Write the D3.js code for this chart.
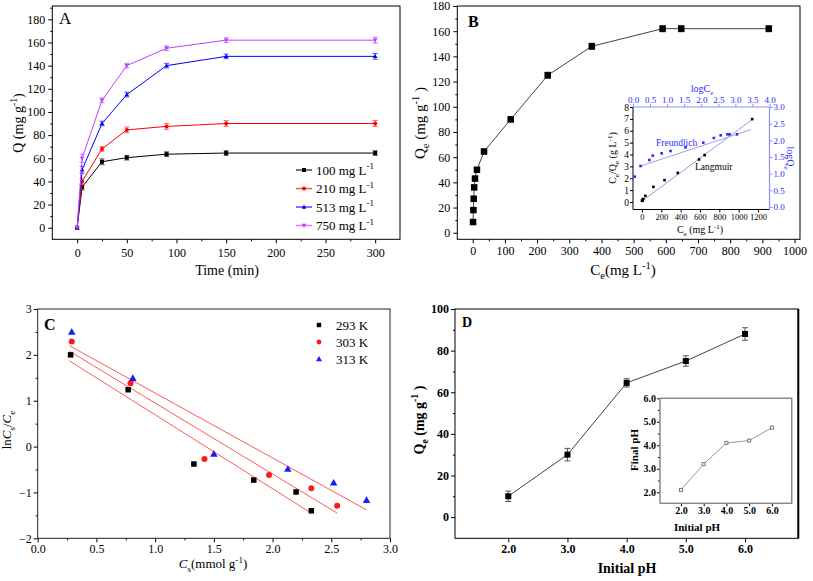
<!DOCTYPE html>
<html><head><meta charset="utf-8">
<script src="https://cdn.jsdelivr.net/npm/d3@7"></script>
<style>body{margin:0;background:#fff}svg{display:block}</style>
</head><body>
<script>
// ---------- Panel A data ----------
const timeMin = [0, 5, 25, 50, 90, 150, 300];
const seriesNamesA = ["100", "210", "513", "750"];
const q100 = [0, 35, 57, 60.5, 63.5, 64.5, 64.5];
const q210 = [0, 40, 68, 84.5, 87.5, 90, 90];
const q513 = [0, 50, 90, 115, 140, 148, 148];
const q750 = [0, 60, 110, 140, 155, 162, 162];
const err100 = [0, 2.5, 2.5, 2, 2, 2, 2];
const err210 = [0, 2.5, 2, 2.5, 2.5, 2.5, 2.5];
const err513 = [0, 3, 2, 2, 2, 2, 2.5];
const err750 = [0, 3.5, 2, 2, 2, 2, 2.5];
const ticksAX = [0, 50, 100, 150, 200, 250, 300];
const ticksAY = [0, 20, 40, 60, 80, 100, 120, 140, 160, 180];

// ---------- Panel B data ----------
const ceB = [1, 2, 3, 4.5, 7, 13, 35, 118, 233, 370, 590, 648, 920];
const qeB = [8.5, 18, 27, 36, 43, 50, 64.5, 90, 125, 148, 162, 162, 162];
const errB = [0, 0, 0, 0, 0, 0, 2, 2, 2.5, 2.5, 2.5, 2.5, 2.5];
const ticksBX = [0, 100, 200, 300, 400, 500, 600, 700, 800, 900, 1000];
const ticksBY = [0, 20, 40, 60, 80, 100, 120, 140, 160, 180];
// inset B
const insetCe = [1, 2, 3, 4.5, 7, 13, 35, 118, 233, 370, 590, 648, 1140];
const insetCeQe = [0.1, 0.12, 0.14, 0.15, 0.2, 0.26, 0.52, 1.28, 1.84, 2.45, 3.58, 3.95, 6.98];
const insetLogCe = [0.05, 0.22, 0.48, 0.58, 0.84, 1.1, 1.54, 2.06, 2.37, 2.57, 2.77, 2.83, 3.05];
const insetLogQe = [0.91, 1.23, 1.41, 1.54, 1.61, 1.68, 1.79, 1.93, 2.07, 2.15, 2.18, 2.18, 2.18];
const langmuirFit = [[0, 0.08], [1150, 7.0]];
const freundlichFit = [[0.2, 1.22], [3.45, 2.32]];
const ticksInCe = [0, 200, 400, 600, 800, 1000, 1200];
const ticksInLeft = [0, 1, 2, 3, 4, 5, 6, 7, 8];
const ticksInRight = [0, 0.5, 1, 1.5, 2, 2.5, 3];
const ticksInTop = [0, 0.5, 1, 1.5, 2, 2.5, 3, 3.5, 4];

// ---------- Panel C data ----------
const tempsC = ["293 K", "303 K", "313 K"];
const cs293 = [0.28, 0.77, 1.33, 1.84, 2.2, 2.33];
const ln293 = [2.0, 1.24, -0.38, -0.73, -0.99, -1.4];
const cs303 = [0.29, 0.79, 1.42, 1.97, 2.33, 2.55];
const ln303 = [2.29, 1.38, -0.27, -0.62, -0.91, -1.29];
const cs313 = [0.29, 0.81, 1.5, 2.13, 2.52, 2.8];
const ln313 = [2.5, 1.49, -0.16, -0.49, -0.79, -1.17];
const fit293 = [[0.27, 1.87], [2.33, -1.45]];
const fit303 = [[0.27, 2.08], [2.55, -1.45]];
const fit313 = [[0.27, 2.2], [2.8, -1.38]];
const ticksCX = [0, 0.5, 1, 1.5, 2, 2.5, 3];
const ticksCY = [-2, -1, 0, 1, 2, 3];

// ---------- Panel D data ----------
const phInit = [2, 3, 4, 5, 6];
const qeD = [10, 30, 64.5, 75, 88];
const errD = [2.5, 3, 2, 2.5, 3];
const phFinal = [2.1, 3.2, 4.1, 4.2, 4.75];
const ticksDX = [2, 3, 4, 5, 6];
const ticksDY = [0, 20, 40, 60, 80, 100];
const ticksDinY = [2, 3, 4, 5, 6];

const FONT = "'Liberation Serif','Times New Roman',serif";
const W = 813, H = 581;
const svg = d3.select("body").append("svg").attr("width", W).attr("height", H)
  .attr("font-family", FONT);

function rich(sel, parts, fs) {
  let shift = 0;
  parts.forEach(p => {
    const t = p.sup ? -fs * 0.42 : p.sub ? fs * 0.28 : 0;
    sel.append("tspan").attr("dy", t - shift)
      .attr("font-size", (p.sup || p.sub) ? fs * 0.7 : fs)
      .attr("font-style", p.it ? "italic" : null)
      .text(p.t);
    shift = t;
  });
  return sel;
}

function axisGen(orient, scale) {
  return orient === "bottom" ? d3.axisBottom(scale) : orient === "left" ? d3.axisLeft(scale)
    : orient === "top" ? d3.axisTop(scale) : d3.axisRight(scale);
}

function addAxis(orient, scale, pos, majors, minors, fmt, o) {
  o = o || {};
  const tr = (orient === "bottom" || orient === "top") ? `translate(0,${pos})` : `translate(${pos},0)`;
  const col = o.color || "#000";
  if (minors) {
    const gm = svg.append("g").attr("transform", tr);
    gm.call(axisGen(orient, scale).tickValues(minors).tickFormat(() => "").tickSizeInner(o.minor || 2).tickSizeOuter(0));
    gm.select(".domain").remove();
    gm.selectAll("line").attr("stroke", col);
  }
  const g = svg.append("g").attr("transform", tr);
  g.call(axisGen(orient, scale).tickValues(majors).tickFormat(fmt).tickSizeInner(o.major || 4).tickSizeOuter(0).tickPadding(o.pad == null ? 2 : o.pad));
  g.select(".domain").remove();
  g.selectAll("line").attr("stroke", col);
  g.selectAll("text").attr("font-family", FONT).attr("font-size", o.fs || 12)
    .attr("fill", o.tcolor || col).attr("font-weight", o.bold ? "bold" : null);
  return g;
}

function frame(x0, y0, x1, y1, stroke, sw) {
  svg.append("rect").attr("x", x0).attr("y", y0).attr("width", x1 - x0).attr("height", y1 - y0)
    .attr("fill", "none").attr("stroke", stroke || "#000").attr("stroke-width", sw || 1);
}

function marker(g, type, cx, cy, s, color, hollow) {
  let el;
  if (type === "square") el = g.append("rect").attr("x", cx - s / 2).attr("y", cy - s / 2).attr("width", s).attr("height", s);
  else if (type === "circle") el = g.append("circle").attr("cx", cx).attr("cy", cy).attr("r", s / 2);
  else if (type === "tri") el = g.append("path").attr("d", `M${cx},${cy - s * 0.6}L${cx + s * 0.58},${cy + s * 0.42}L${cx - s * 0.58},${cy + s * 0.42}Z`);
  else el = g.append("path").attr("d", `M${cx},${cy + s * 0.6}L${cx + s * 0.58},${cy - s * 0.42}L${cx - s * 0.58},${cy - s * 0.42}Z`);
  if (hollow) el.attr("fill", "#fff").attr("stroke", color).attr("stroke-width", 1);
  else el.attr("fill", color);
}

function errBars(g, xs, ys, es, xS, yS, color, cap) {
  xs.forEach((xv, i) => {
    if (!es[i]) return;
    const x = xS(xv), y1 = yS(ys[i] - es[i]), y2 = yS(ys[i] + es[i]);
    g.append("line").attr("x1", x).attr("x2", x).attr("y1", y1).attr("y2", y2).attr("stroke", color);
    [y1, y2].forEach(y => g.append("line").attr("x1", x - cap).attr("x2", x + cap).attr("y1", y).attr("y2", y).attr("stroke", color));
  });
}

// ================= Panel A =================
{
  const L = 52.3, R = 400, T = 6, B = 239.3;
  const x = d3.scaleLinear().domain([-25, 325]).range([L, R]);
  const y = d3.scaleLinear().domain([-10, 191.5]).range([B, T]);
  addAxis("bottom", x, B, ticksAX, d3.range(25, 300, 50), d3.format("d"), { pad: 5 });
  addAxis("left", y, L, ticksAY, d3.range(10, 191, 20), d3.format("d"), { pad: 3 });
  frame(L, T, R, B);
  const series = [
    { q: q100, e: err100, c: "#000000", ec: "#555", m: "square" },
    { q: q210, e: err210, c: "#ff0000", ec: "#ff6060", m: "circle" },
    { q: q513, e: err513, c: "#0000ff", ec: "#5050ff", m: "tri" },
    { q: q750, e: err750, c: "#c040ff", ec: "#c070ff", m: "dtri" }
  ];
  const line = d3.line().x((d, i) => x(timeMin[i])).y(d => y(d));
  const g = svg.append("g");
  series.forEach(s => {
    g.append("path").attr("d", line(s.q)).attr("fill", "none").attr("stroke", s.c).attr("stroke-width", 1);
    errBars(g, timeMin, s.q, s.e, x, y, s.ec, 2.5);
    s.q.forEach((v, i) => marker(g, s.m, x(timeMin[i]), y(v), 4, s.c));
  });
  const ly = [170, 188.5, 207, 225.5];
  series.forEach((s, i) => {
    g.append("line").attr("x1", 296).attr("x2", 312).attr("y1", ly[i]).attr("y2", ly[i]).attr("stroke", s.c).attr("stroke-width", 1.5).attr("stroke-opacity", 0.7);
    marker(g, s.m, 304, ly[i], 4, s.c);
    rich(g.append("text").attr("x", 316).attr("y", ly[i] + 4.5), [{ t: seriesNamesA[i] + " mg L" }, { t: "-1", sup: true }], 13);
  });
  svg.append("text").attr("x", 59).attr("y", 24).attr("font-size", 17).text("A");
  svg.append("text").attr("x", 227).attr("y", 275).attr("text-anchor", "middle").attr("font-size", 14).text("Time (min)");
  rich(svg.append("text").attr("transform", "translate(23,123) rotate(-90)").attr("text-anchor", "middle"),
    [{ t: "Q (mg g" }, { t: "-1", sup: true }, { t: ")" }], 14);
}

// ================= Panel B =================
{
  const L = 457.3, R = 800, T = 6, B = 239.3;
  const x = d3.scaleLinear().domain([-48, 1017]).range([L, R]);
  const y = d3.scaleLinear().domain([-5.2, 180]).range([B, T]);
  addAxis("bottom", x, B, ticksBX, d3.range(50, 1000, 100), d3.format("d"), { pad: 3 });
  addAxis("left", y, L, ticksBY, d3.range(10, 180, 20), d3.format("d"), { pad: 3 });
  frame(L, T, R, B);
  const g = svg.append("g");
  g.append("path").attr("d", d3.line().x((d, i) => x(ceB[i])).y(d => y(d))(qeB))
    .attr("fill", "none").attr("stroke", "#444").attr("stroke-width", 1);
  errBars(g, ceB, qeB, errB, x, y, "#777", 3);
  qeB.forEach((v, i) => marker(g, "square", x(ceB[i]), y(v), 6.5, "#000"));
  svg.append("text").attr("x", 468).attr("y", 27).attr("font-size", 16).attr("font-weight", "bold").text("B");
  rich(svg.append("text").attr("x", 623).attr("y", 275).attr("text-anchor", "middle"),
    [{ t: "C" }, { t: "e", sub: true }, { t: "(mg L" }, { t: "-1", sup: true }, { t: ")" }], 15);
  rich(svg.append("text").attr("transform", "translate(425,123) rotate(-90)").attr("text-anchor", "middle"),
    [{ t: "Q" }, { t: "e", sub: true }, { t: " (mg g" }, { t: "-1", sup: true }, { t: " )" }], 15);

  // ---- inset ----
  const iL = 633, iR = 769.5, iT = 107, iB = 209.5;
  const blue = "#2a2aff", lblue = "#8f8fff";
  const xc = d3.scaleLinear().domain([-93, 1319]).range([iL, iR]);
  const xl = d3.scaleLinear().domain([0, 4]).range([iL, iR]);
  const yl = d3.scaleLinear().domain([-0.63, 8]).range([iB, iT]);
  const yr = d3.scaleLinear().domain([-0.075, 3]).range([iB, iT]);
  svg.append("rect").attr("x", iL).attr("y", iT).attr("width", iR - iL).attr("height", iB - iT).attr("fill", "#fff");
  addAxis("bottom", xc, iB, ticksInCe, null, d3.format("d"), { fs: 8.5, major: 3, pad: 1 });
  addAxis("left", yl, iL, ticksInLeft, null, d3.format("d"), { fs: 9.5, major: 3, pad: 1 });
  addAxis("top", xl, iT, ticksInTop, null, d3.format(".1f"), { fs: 9, major: 3, pad: 1, color: lblue, tcolor: blue });
  addAxis("right", yr, iR, ticksInRight, null, d3.format(".1f"), { fs: 9, major: 3, pad: 1, color: lblue, tcolor: blue });
  svg.append("line").attr("x1", iL).attr("x2", iR).attr("y1", iB).attr("y2", iB).attr("stroke", "#000");
  svg.append("line").attr("x1", iL).attr("x2", iL).attr("y1", iT).attr("y2", iB).attr("stroke", "#000");
  svg.append("line").attr("x1", iL).attr("x2", iR).attr("y1", iT).attr("y2", iT).attr("stroke", lblue).attr("stroke-width", 1.2);
  svg.append("line").attr("x1", iR).attr("x2", iR).attr("y1", iT).attr("y2", iB).attr("stroke", lblue).attr("stroke-width", 1.2);
  const gi = svg.append("g");
  gi.append("line").attr("x1", xc(langmuirFit[0][0])).attr("y1", yl(langmuirFit[0][1]))
    .attr("x2", xc(langmuirFit[1][0])).attr("y2", yl(langmuirFit[1][1])).attr("stroke", "#9b9bdd").attr("stroke-width", 1);
  gi.append("line").attr("x1", xl(freundlichFit[0][0])).attr("y1", yr(freundlichFit[0][1]))
    .attr("x2", xl(freundlichFit[1][0])).attr("y2", yr(freundlichFit[1][1])).attr("stroke", "#a0a0f0").attr("stroke-width", 1);
  insetCeQe.forEach((v, i) => marker(gi, "square", xc(insetCe[i]), yl(v), 2.6, "#000"));
  insetLogQe.forEach((v, i) => marker(gi, "square", xl(insetLogCe[i]), yr(v), 2.6, blue));
  gi.append("text").attr("x", 656).attr("y", 146).attr("font-size", 9.5).attr("fill", blue).text("Freundlich");
  gi.append("text").attr("x", 695).attr("y", 170).attr("font-size", 9.5).attr("fill", "#000").text("Langmuir");
  rich(svg.append("text").attr("x", 702).attr("y", 92).attr("text-anchor", "middle").attr("fill", blue),
    [{ t: "logC" }, { t: "e", sub: true }], 10);
  rich(svg.append("text").attr("x", 700).attr("y", 233).attr("text-anchor", "middle"),
    [{ t: "C" }, { t: "e", sub: true }, { t: " (mg L" }, { t: "-1", sup: true }, { t: ")" }], 10);
  rich(svg.append("text").attr("transform", "translate(616,158) rotate(-90)").attr("text-anchor", "middle"),
    [{ t: "C" }, { t: "e", sub: true }, { t: "/Q" }, { t: "e", sub: true }, { t: " (g L" }, { t: "-1", sup: true }, { t: ")" }], 10);
  rich(svg.append("text").attr("transform", "translate(787,158) rotate(90)").attr("text-anchor", "middle").attr("fill", blue),
    [{ t: "logQ" }, { t: "e", sub: true }], 10);
}

// ================= Panel C =================
{
  const L = 37.7, R = 390, T = 309, B = 538.3;
  const x = d3.scaleLinear().domain([0, 3]).range([L, R]);
  const y = d3.scaleLinear().domain([-2, 3]).range([B, T]);
  addAxis("bottom", x, B, ticksCX, d3.range(0.25, 3, 0.5), d3.format(".1f"), { pad: 2 });
  addAxis("left", y, L, ticksCY, d3.range(-1.5, 3, 1), d3.format("d"), { pad: 2 });
  frame(L, T, R, B, "#222");
  const g = svg.append("g");
  [fit293, fit303, fit313].forEach(f => g.append("line").attr("x1", x(f[0][0])).attr("y1", y(f[0][1]))
    .attr("x2", x(f[1][0])).attr("y2", y(f[1][1])).attr("stroke", "#ff5a5a").attr("stroke-width", 1));
  const sets = [
    { xs: cs293, ys: ln293, m: "square", c: "#000", s: 5.5 },
    { xs: cs303, ys: ln303, m: "circle", c: "#ff1a1a", s: 6 },
    { xs: cs313, ys: ln313, m: "tri", c: "#1a1aff", s: 6.5 }
  ];
  sets.forEach(st => st.xs.forEach((v, i) => marker(g, st.m, x(v), y(st.ys[i]), st.s, st.c)));
  const ly = [325, 342, 359];
  sets.forEach((st, i) => {
    marker(g, st.m, 319, ly[i], st.s * 0.8, st.c);
    g.append("text").attr("x", 336).attr("y", ly[i] + 5).attr("font-size", 13).text(tempsC[i]);
  });
  svg.append("text").attr("x", 44).attr("y", 330).attr("font-size", 16).attr("font-weight", "bold").text("C");
  rich(svg.append("text").attr("x", 213).attr("y", 568).attr("text-anchor", "middle"),
    [{ t: "C", it: true }, { t: "s", sub: true }, { t: "(mmol g" }, { t: "-1", sup: true }, { t: ")" }], 13);
  rich(svg.append("text").attr("transform", "translate(11,430) rotate(-90)").attr("text-anchor", "middle"),
    [{ t: "ln" }, { t: "C", it: true }, { t: "s", sub: true }, { t: "/" }, { t: "C", it: true }, { t: "e", sub: true }], 13);
}

// ================= Panel D =================
{
  const L = 455, R = 798.3, T = 309, B = 538.3;
  const x = d3.scaleLinear().domain([1.1, 6.9]).range([L, R]);
  const y = d3.scaleLinear().domain([-10.2, 100]).range([B, T]);
  addAxis("bottom", x, B, ticksDX, null, d3.format(".1f"), { pad: 2, bold: true });
  addAxis("left", y, L, ticksDY, [10, 30, 50, 70, 90], d3.format("d"), { pad: 2, bold: true });
  frame(L, T, R, B);
  svg.append("line").attr("x1", R).attr("x2", R).attr("y1", T).attr("y2", B).attr("stroke", "#000").attr("stroke-width", 2);
  const g = svg.append("g");
  g.append("path").attr("d", d3.line().x((d, i) => x(phInit[i])).y(d => y(d))(qeD))
    .attr("fill", "none").attr("stroke", "#444").attr("stroke-width", 1);
  errBars(g, phInit, qeD, errD, x, y, "#555", 3);
  qeD.forEach((v, i) => marker(g, "square", x(phInit[i]), y(v), 6, "#000"));
  svg.append("text").attr("x", 462).attr("y", 327).attr("font-size", 14).attr("font-weight", "bold").text("D");
  svg.append("text").attr("x", 627).attr("y", 573).attr("text-anchor", "middle").attr("font-size", 14).attr("font-weight", "bold").text("Initial pH");
  rich(svg.append("text").attr("transform", "translate(424,420) rotate(-90)").attr("text-anchor", "middle").attr("font-weight", "bold"),
    [{ t: "Q" }, { t: "e", sub: true }, { t: " (mg g" }, { t: "-1", sup: true }, { t: " )" }], 14);

  // inset
  const iL = 660, iR = 791.7, iT = 398.3, iB = 503.3;
  const xi = d3.scaleLinear().domain([1.08, 6.87]).range([iL, iR]);
  const yi = d3.scaleLinear().domain([1.53, 6.0]).range([iB, iT]);
  svg.append("rect").attr("x", iL).attr("y", iT).attr("width", iR - iL).attr("height", iB - iT).attr("fill", "#fff");
  addAxis("bottom", xi, iB, ticksDX, null, d3.format(".1f"), { fs: 10, major: 3, pad: 1, bold: true });
  addAxis("left", yi, iL, ticksDinY, [2.5, 3.5, 4.5, 5.5], d3.format(".1f"), { fs: 10, major: 3, pad: 1, bold: true });
  frame(iL, iT, iR, iB, "#8a8a8a", 1.5);
  const gi = svg.append("g");
  gi.append("path").attr("d", d3.line().x((d, i) => xi(phInit[i])).y(d => yi(d))(phFinal))
    .attr("fill", "none").attr("stroke", "#999").attr("stroke-width", 1);
  phFinal.forEach((v, i) => marker(gi, "square", xi(phInit[i]), yi(v), 3, "#777", true));
  svg.append("text").attr("x", 697).attr("y", 531).attr("text-anchor", "middle").attr("font-size", 11).attr("font-weight", "bold").text("Initial pH");
  svg.append("text").attr("transform", "translate(638,450) rotate(-90)").attr("text-anchor", "middle").attr("font-size", 11).attr("font-weight", "bold").text("Final pH");
}
</script>
</body></html>
